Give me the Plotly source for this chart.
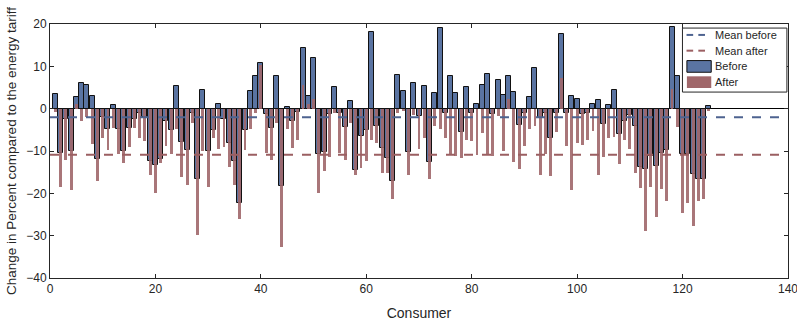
import plotly.graph_objects as go

# Consumer index and percent change relative to the energy tariff
consumers = list(range(1, 126))

before = [
    3.4, -10.4, -2.5, -10.0, 2.8, 6.0, 5.7, 3.0, -12.0, -2.0,
    -4.9, 0.8, -4.9, -10.0, -4.5, -2.5, -1.0, -2.0, -12.4, -13.3,
    -12.0, -3.0, -5.1, 5.4, -7.9, -9.8, -1.0, -16.5, 4.4, -10.0,
    -5.0, 1.2, -2.5, -8.0, -12.4, -22.2, -5.1, 4.2, 7.7, 10.9,
    -1.3, -4.5, 7.7, -18.3, 0.4, -2.8, -0.8, 14.3, 3.0, 11.9,
    -10.8, -10.2, -1.2, 5.2, -1.0, -4.3, 1.8, -14.6, -6.5, -5.0,
    18.2, -4.0, -9.2, -11.6, -17.2, 7.9, 4.2, -10.2, 6.1, -1.8,
    5.4, -12.7, 3.8, 19.0, -1.1, 7.6, 3.8, -5.4, 5.2, -1.0,
    1.2, 5.7, 8.3, -1.2, 6.8, 3.2, 7.7, 4.0, -3.9, -1.1,
    2.8, 9.5, -2.1, -1.0, -6.9, -1.0, 17.7, -1.0, 3.0, 2.4,
    -1.3, -1.0, 1.2, 2.0, -3.7, 0.8, 4.4, -5.9, -2.8, -1.5,
    -4.2, -13.7, -14.3, -11.2, -13.5, -10.4, -9.7, 19.4, 7.6, -10.6,
    -10.8, -15.4, -16.5, -16.5, 0.6,
]

after = [
    -0.9, -18.5, -12.1, -19.2, 1.0, -2.9, -2.0, -8.4, -17.1, -7.0,
    -9.8, -4.5, -10.6, -12.8, -9.0, -4.5, -6.9, -7.6, -15.7, -20.0,
    -12.8, -8.8, -10.8, -4.9, -16.1, -18.0, -3.5, -29.9, -10.0, -18.4,
    -6.9, -9.6, -9.0, -13.8, -18.0, -26.1, -9.8, -4.9, -1.0, 10.4,
    -10.4, -12.1, -3.5, -32.7, -4.9, -9.2, -7.5, 5.7, 1.0, 2.2,
    -20.0, -14.7, -11.4, -1.0, -10.4, -12.1, -3.3, -15.7, -13.9, -12.4,
    -7.5, -8.0, -15.1, -15.1, -21.4, -1.0, -0.5, -15.7, -1.5, -9.6,
    -6.9, -16.5, -4.1, -4.9, -6.9, -10.8, -11.2, -11.6, -7.3, -7.6,
    -11.0, -5.7, -11.0, -11.2, -1.7, -10.0, 2.2, -12.6, -14.3, -8.8,
    -4.9, -4.1, -15.7, -10.6, -15.9, -5.4, 7.3, -8.8, -19.1, -8.0,
    -8.6, -7.5, -5.3, -15.7, -11.4, -6.9, -6.7, -13.1, -7.3, -9.6,
    -15.1, -18.7, -29.0, -18.4, -25.7, -18.9, -21.7, 4.6, -4.3, -24.6,
    -22.2, -27.7, -21.8, -21.4, -0.5,
]

mean_before = -2.05
mean_after = -10.9

x_range = [0, 140]
y_range = [-40, 20]

legend_labels = ["Mean before", "Mean after", "Before", "After"]

BLUE = "#5A74A2"
RED = "#A0676A"
MEAN_BLUE = "#4E6390"
MEAN_RED = "#9B5F62"
AXIS = "#262626"
FONT = "Liberation Sans, Arial, sans-serif"

fig = go.Figure()

fig.add_trace(go.Bar(
    x=consumers, y=before, name="Before", width=0.95,
    marker=dict(color=BLUE, line=dict(color="#111111", width=1)),
))
fig.add_trace(go.Bar(
    x=consumers, y=after, name="After", width=0.55,
    marker=dict(color=RED, opacity=0.9, line=dict(width=0)),
))
fig.add_trace(go.Scatter(
    x=x_range, y=[mean_before, mean_before], mode="lines", name="Mean before",
    line=dict(color=MEAN_BLUE, width=2, dash="dash"),
))
fig.add_trace(go.Scatter(
    x=x_range, y=[mean_after, mean_after], mode="lines", name="Mean after",
    line=dict(color=MEAN_RED, width=2, dash="dash"),
))

# Compact boxed legend in the upper right corner of the axes (paper coordinates)
lg_x0, lg_x1 = 0.857, 0.9985
lg_y1, lg_y0 = 0.984, 0.732
row_y = [0.957, 0.895, 0.833, 0.771]
sym_x0, sym_x1 = 0.863, 0.896
dash_segments = [(0.8625, 0.8715), (0.8785, 0.8875)]
text_x = 0.899

shapes = [dict(type="rect", xref="paper", yref="paper",
               x0=lg_x0, x1=lg_x1, y0=lg_y0, y1=lg_y1,
               line=dict(color=AXIS, width=1), fillcolor="white", layer="above")]
for ry, col in zip(row_y[:2], [MEAN_BLUE, MEAN_RED]):
    for sx0, sx1 in dash_segments:
        shapes.append(dict(type="line", xref="paper", yref="paper",
                           x0=sx0, x1=sx1, y0=ry, y1=ry, layer="above",
                           line=dict(color=col, width=2)))
shapes.append(dict(type="rect", xref="paper", yref="paper",
                   x0=sym_x0, x1=sym_x1, y0=row_y[2] - 0.023, y1=row_y[2] + 0.023, layer="above",
                   fillcolor=BLUE, line=dict(color="#111111", width=1)))
shapes.append(dict(type="rect", xref="paper", yref="paper",
                   x0=sym_x0, x1=sym_x1, y0=row_y[3] - 0.023, y1=row_y[3] + 0.023, layer="above",
                   fillcolor=RED, line=dict(width=0)))

annotations = [
    dict(text=lab, xref="paper", yref="paper", x=text_x,
         y=ry, xanchor="left", yanchor="middle", showarrow=False,
         font=dict(family=FONT, size=11, color=AXIS))
    for lab, ry in zip(legend_labels, row_y)
]

axis_common = dict(
    showline=True, linecolor=AXIS, linewidth=1, mirror="ticks",
    ticks="inside", ticklen=4, tickcolor=AXIS, showgrid=False,
    tickfont=dict(family=FONT, size=12, color=AXIS),
    ticklabeloverflow="allow", automargin=False,
)

fig.update_layout(
    width=797, height=321,
    margin=dict(l=50, r=9, t=24, b=43, autoexpand=False),
    paper_bgcolor="white", plot_bgcolor="white",
    barmode="overlay", bargap=0,
    font=dict(family=FONT, size=12, color=AXIS),
    showlegend=False,
    shapes=shapes,
    annotations=annotations,
    xaxis=dict(
        range=x_range, dtick=20, tick0=0, zeroline=False,
        title=dict(text="Consumer", font=dict(family=FONT, size=14, color=AXIS), standoff=12),
        **axis_common,
    ),
    yaxis=dict(
        range=y_range, dtick=10, tick0=0,
        zeroline=True, zerolinecolor="#000000", zerolinewidth=1,
        title=dict(text="Change in Percent compared to the energy tariff",
                   font=dict(family=FONT, size=13.5, color=AXIS), standoff=6),
        **axis_common,
    ),
)

fig.write_html("out.html")
